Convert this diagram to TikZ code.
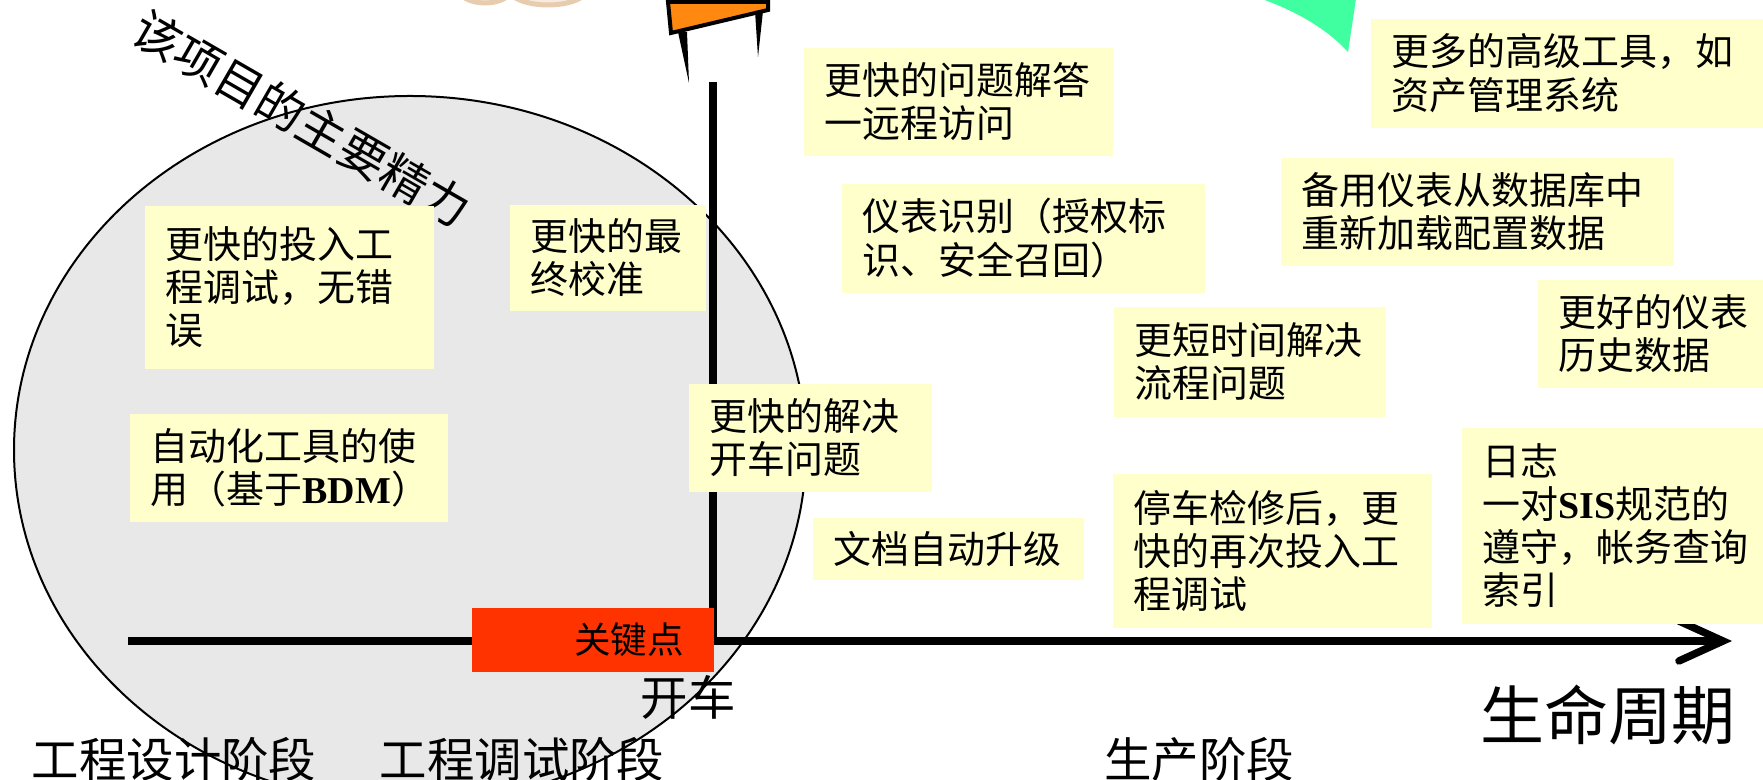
\documentclass[tikz,border=0pt]{standalone}
\usepackage{fontspec}
\setmainfont{Noto Sans CJK SC}
\newfontfamily\latinrm{Liberation Serif}
\usepackage{tikz}
\usetikzlibrary{arrows.meta}
\definecolor{noteYellow}{HTML}{FFFFCC}
\definecolor{effortGray}{HTML}{E8E8E8}
\definecolor{keyRed}{HTML}{FF3300}
\definecolor{flagOrange}{HTML}{FF8811}
\definecolor{arcGreen}{HTML}{40FFA0}
\definecolor{cloudFill}{HTML}{F7EBDF}
\definecolor{cloudEdge}{HTML}{E8CCAE}
\tikzset{
  note/.style={fill=noteYellow, anchor=north west, align=left, inner xsep=2.1mm,
    inner ysep=0pt, font=\fontsize{10.8}{12.3}\selectfont},
  phase/.style={font=\fontsize{13.5}{16}\selectfont},
}

\begin{document}
\begin{tikzpicture}[x=0.1mm, y=-0.1mm]
    \useasboundingbox (0,0) rectangle (1763,780);
    \clip (0,0) rectangle (1763,780);
    % clip-art cut by the top edge
    \filldraw[fill=cloudFill, draw=cloudEdge, line width=0.5mm] (485,-12) ellipse [x radius=27, y radius=15];
    \filldraw[fill=cloudFill, draw=cloudEdge, line width=0.5mm] (548,-12) ellipse [x radius=40, y radius=17];
    \filldraw[fill=flagOrange, line width=0.4mm] (668,2) -- (768,2) -- (768,10) -- (671,33) -- cycle;
    \fill (678,32) -- (687,32) -- (689,83) -- cycle;
    \fill (755,11) -- (763,11) -- (758,57) -- cycle;
    \fill[arcGreen] (1262,-1) .. controls (1295,11) and (1326,28) .. (1348,52) -- (1356,-1) -- cycle;

    % main effort area
    \filldraw[fill=effortGray, draw=black, line width=0.2mm] (410,450) ellipse [x radius=396, y radius=354];
    \node[phase, rotate=-30] (mainEffort) at (302,119) {该项目的主要精力};

    % axes
    \coordinate (axisStart) at (128,641);
    \coordinate (origin) at (713,641);
    \coordinate (axisTop) at (713,82);
    \coordinate (axisEnd) at (1732,641);
    \draw[line width=0.75mm] (axisTop) -- (origin);
    \draw[line width=0.75mm, -{Straight Barb[length=4.4mm, width=4mm, line cap=round]}] (axisStart) -- (axisEnd);
    \node[fill=keyRed, anchor=north west, minimum height=6.4mm, text width=18.2mm, inner xsep=3mm,
        align=right, font=\fontsize{10.4}{12}\selectfont] (keyPoint) at (471,607) {关键点};

    % benefits
    \node[note, text width=24.7mm, minimum height=16.3mm] (fasterCommission) at (144,205) {更快的投入工\\程调试，无错\\误};
    \node[note, text width=27.6mm, minimum height=10.8mm] (autoTools) at (129,413) {自动化工具的使\\用（基于{\latinrm\bfseries BDM}）};
    \node[note, text width=15.4mm, minimum height=10.6mm] (finalCal) at (509,204) {更快的最\\终校准};
    \node[note, text width=20.1mm, minimum height=10.8mm] (startupFix) at (688,383) {更快的解决\\开车问题};
    \node[note, text width=26.7mm, minimum height=10.8mm] (remoteAccess) at (803,47) {更快的问题解答\\一远程访问};
    \node[note, text width=32.1mm, minimum height=10.9mm] (deviceId) at (841,183) {仪表识别（授权标\\识、安全召回）};
    \node[note, text width=22.9mm, minimum height=6.2mm] (docUpgrade) at (812,517) {文档自动升级};
    \node[note, text width=23.0mm, minimum height=11.0mm] (processFix) at (1113,306) {更短时间解决\\流程问题};
    \node[note, text width=27.7mm, minimum height=15.4mm] (turnaround) at (1112,473) {停车检修后，更\\快的再次投入工\\程调试};
    \node[note, text width=35.1mm, minimum height=10.9mm] (assetMgmt) at (1370,18) {更多的高级工具，如\\资产管理系统};
    \node[note, text width=35.1mm, minimum height=10.8mm] (spareReload) at (1280,157) {备用仪表从数据库中\\重新加载配置数据};
    \node[note, text width=18.4mm, minimum height=10.8mm] (history) at (1537,279) {更好的仪表\\历史数据};
    \node[note, text width=26.0mm, minimum height=19.6mm] (auditLog) at (1461,427) {日志\\一对{\latinrm\bfseries SIS}规范的\\遵守，帐务查询\\索引};

    % phases along the life cycle
    \node[phase] (startup) at (688,697) {开车};
    \node[phase] (designPhase) at (174,759) {工程设计阶段};
    \node[phase] (commissionPhase) at (522,759) {工程调试阶段};
    \node[phase] (productionPhase) at (1199,759) {生产阶段};
    \node[font=\fontsize{18.2}{22}\selectfont] (lifeCycle) at (1608,715) {生命周期};
\end{tikzpicture}
\end{document}
